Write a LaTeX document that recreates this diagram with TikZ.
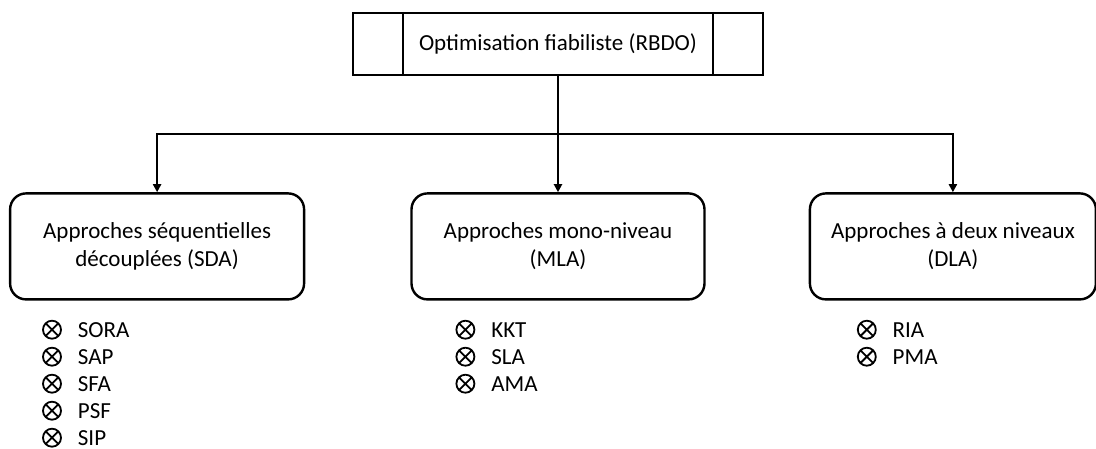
\documentclass[tikz,border=0pt]{standalone}
\usepackage{fontspec}
\setmainfont{Carlito}
\usepackage{tikz}
\usetikzlibrary{arrows.meta,positioning}
% crossed-circle bullet for the method lists
\newcommand{\itemmark}{\tikz[baseline=-7.5pt]{\draw[line width=1.8pt] (0pt,0pt) circle (9pt) (45:9pt) -- (225:9pt) (135:9pt) -- (315:9pt);}\hspace{16pt}}

\begin{document}
\begin{tikzpicture}[
  x=1pt, y=-1pt,
  node distance=116pt and 105pt,
  rootbox/.style={draw, line width=2.4pt, align=center, minimum width=410pt, minimum height=62pt, font=\fontsize{23}{28}\selectfont},
  familybox/.style={draw, rounded corners=16pt, line width=2.4pt, align=center, minimum height=106pt, font=\fontsize{23}{28}\selectfont},
  methodlist/.style={align=left, anchor=north west, inner sep=0pt, font=\fontsize{23}{27}\selectfont},
  link/.style={line width=2pt},
  arrow/.style={-{Triangle[length=8pt,width=8pt]}, line width=2pt}
]
\useasboundingbox (0,0) rectangle (1096,448);
\node[rootbox] (rbdo) at (558,44) {Optimisation fiabiliste (RBDO)};
\draw[line width=2.4pt] ([xshift=51pt]rbdo.north west) -- ([xshift=51pt]rbdo.south west);
\draw[line width=2.4pt] ([xshift=-51pt]rbdo.north east) -- ([xshift=-51pt]rbdo.south east);
\node[familybox, minimum width=293pt, below=of rbdo] (mla) {Approches mono-niveau\\(MLA)};
\node[familybox, minimum width=294pt, left=of mla] (sda) {Approches séquentielles\\découplées (SDA)};
\node[familybox, minimum width=286pt, right=103pt of mla] (dla) {Approches à deux niveaux\\(DLA)};
% methods under each family
\node[methodlist] (sdalist) at ([xshift=33pt,yshift=-19pt]sda.south west)
  {\itemmark SORA\\\itemmark SAP\\\itemmark SFA\\\itemmark PSF\\\itemmark SIP};
\node[methodlist] (mlalist) at ([xshift=45pt,yshift=-19pt]mla.south west)
  {\itemmark KKT\\\itemmark SLA\\\itemmark AMA};
\node[methodlist] (dlalist) at ([xshift=48pt,yshift=-19pt]dla.south west)
  {\itemmark RIA\\\itemmark PMA};
\draw[link] (rbdo.south) -- ++(0,58) coordinate (split);
\draw[arrow] (split) -| (sda.north);
\draw[arrow] (split) -- (mla.north);
\draw[arrow] (split) -| (dla.north);
\end{tikzpicture}
\end{document}
